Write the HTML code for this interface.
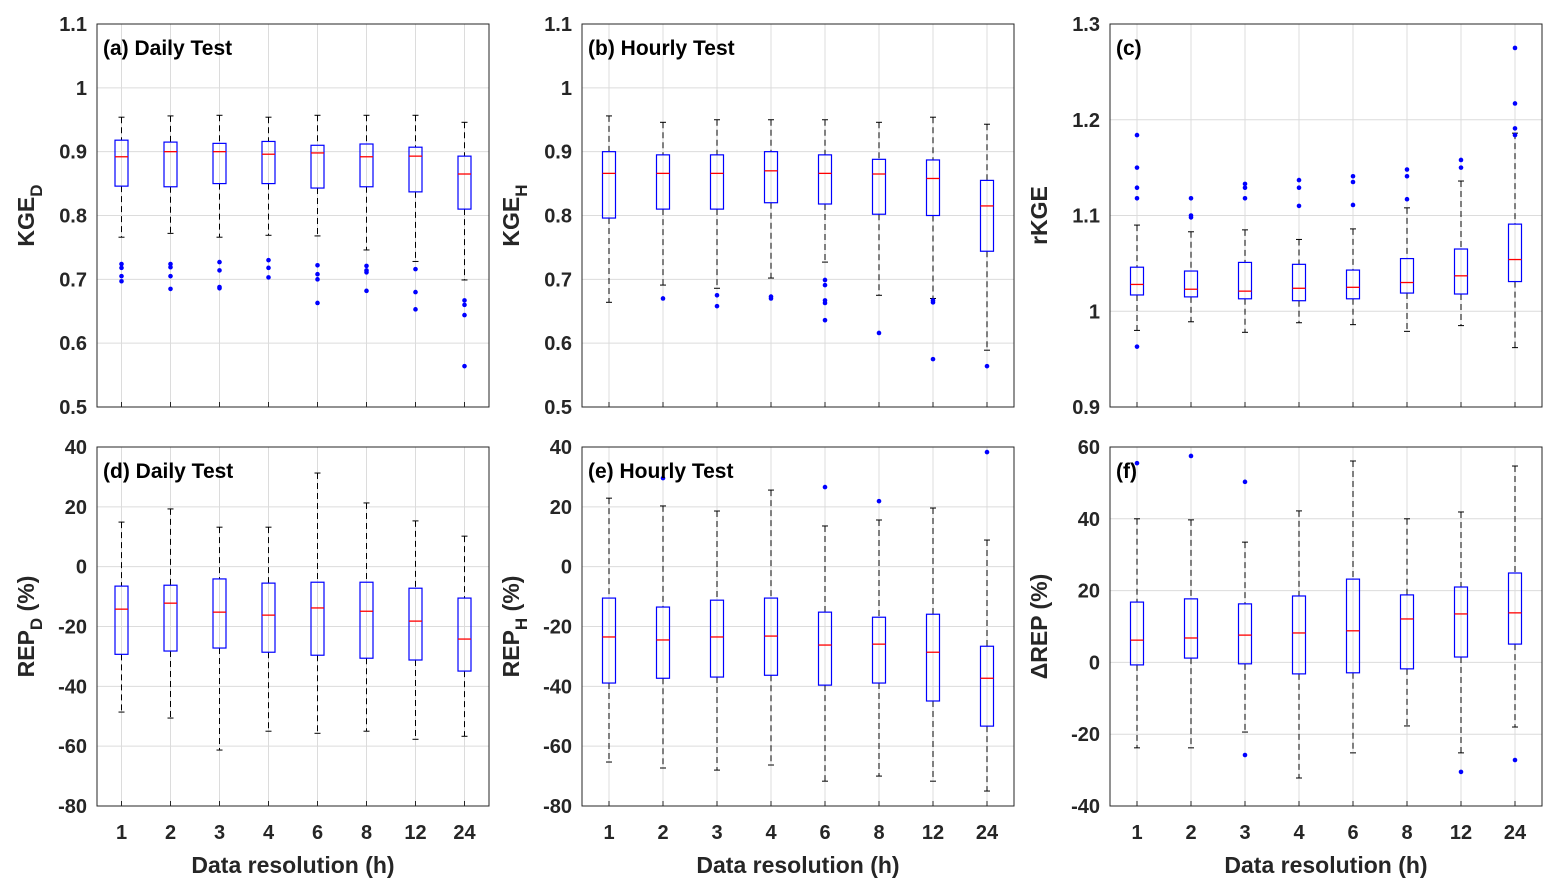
<!DOCTYPE html>
<html><head><meta charset="utf-8"><style>
body{margin:0;background:#fff;}
svg{display:block;font-family:"Liberation Sans",Arial,sans-serif;}
</style></head><body>
<svg id="chart" width="1559" height="894" xmlns="http://www.w3.org/2000/svg"></svg>
<script>
const categories = ["1","2","3","4","6","8","12","24"];
// each entry: [lowWhisker, q1, median, q3, highWhisker]
const statsA = [[0.766,0.846,0.892,0.918,0.954],[0.772,0.845,0.9,0.915,0.956],[0.766,0.85,0.9,0.913,0.957],[0.769,0.85,0.896,0.916,0.954],[0.768,0.843,0.898,0.91,0.957],[0.746,0.845,0.892,0.912,0.957],[0.728,0.837,0.893,0.907,0.957],[0.699,0.81,0.865,0.893,0.946]];
const outA = [[0.724,0.718,0.705,0.697],[0.724,0.719,0.705,0.685],[0.727,0.714,0.688,0.686],[0.73,0.718,0.703],[0.722,0.708,0.7,0.663],[0.721,0.714,0.711,0.682],[0.716,0.68,0.653],[0.667,0.66,0.644,0.564]];
const statsB = [[0.664,0.796,0.866,0.9,0.956],[0.691,0.81,0.866,0.895,0.946],[0.686,0.81,0.866,0.895,0.95],[0.702,0.82,0.87,0.9,0.95],[0.727,0.818,0.866,0.895,0.95],[0.675,0.802,0.865,0.888,0.946],[0.67,0.8,0.858,0.887,0.954],[0.589,0.744,0.815,0.855,0.943]];
const outB = [[],[0.67],[0.675,0.658],[0.673,0.67],[0.699,0.691,0.667,0.663,0.636],[0.616],[0.667,0.664,0.575],[0.564]];
const statsC = [[0.98,1.017,1.028,1.046,1.09],[0.989,1.015,1.023,1.042,1.083],[0.978,1.013,1.021,1.051,1.085],[0.988,1.011,1.024,1.049,1.075],[0.986,1.013,1.025,1.043,1.086],[0.979,1.019,1.03,1.055,1.108],[0.985,1.018,1.037,1.065,1.136],[0.962,1.031,1.054,1.091,1.186]];
const outC = [[0.963,1.184,1.15,1.129,1.118],[1.118,1.1,1.098],[1.133,1.129,1.118],[1.137,1.129,1.11],[1.141,1.135,1.111],[1.148,1.141,1.117],[1.158,1.15],[1.275,1.217,1.191,1.184]];
const statsD = [[-48.6,-29.3,-14.2,-6.5,14.9],[-50.6,-28.2,-12.2,-6.2,19.3],[-61.3,-27.2,-15.2,-4.1,13.2],[-55,-28.6,-16.2,-5.5,13.2],[-55.7,-29.6,-13.8,-5.2,31.3],[-55,-30.6,-14.9,-5.2,21.3],[-57.7,-31.2,-18.2,-7.2,15.3],[-56.7,-34.9,-24.2,-10.5,10.2]];
const outD = [[],[],[],[],[],[],[],[]];
const statsE = [[-65.3,-38.9,-23.5,-10.5,22.9],[-67.3,-37.3,-24.5,-13.5,20.3],[-68,-36.9,-23.5,-11.2,18.6],[-66.3,-36.3,-23.2,-10.5,25.6],[-71.7,-39.6,-26.2,-15.2,13.6],[-70,-38.9,-25.9,-16.9,15.6],[-71.7,-44.9,-28.6,-15.9,19.6],[-75,-53.3,-37.3,-26.6,8.9]];
const outE = [[],[29.6],[],[],[26.6],[21.9],[],[38.3]];
const statsF = [[-23.8,-0.7,6.2,16.8,40],[-23.8,1.2,6.8,17.7,39.7],[-19.4,-0.4,7.6,16.3,33.5],[-32.2,-3.2,8.2,18.5,42.2],[-25.2,-2.9,8.8,23.2,56.1],[-17.7,-1.8,12.1,18.8,40],[-25.2,1.5,13.5,21,41.9],[-18,5.1,13.8,24.9,54.7]];
const outF = [[55.5],[57.5],[50.3,-25.8],[],[],[],[-30.5],[-27.2]];
const ticksTop = ["0.5","0.6","0.7","0.8","0.9","1","1.1"];
const ticksC = ["0.9","1","1.1","1.2","1.3"];
const ticksDE = ["-80","-60","-40","-20","0","20","40"];
const ticksF = ["-40","-20","0","20","40","60"];

const svg = document.getElementById('chart');
const NS = "http://www.w3.org/2000/svg";
function mk(tag, attrs, parent){const e=document.createElementNS(NS,tag);for(const k in attrs)e.setAttribute(k,attrs[k]);(parent||svg).appendChild(e);return e;}

const panels = [
 {id:"a",title:"(a) Daily Test",L:97,R:489,T:24,B:407,ticks:ticksTop,stats:statsA,out:outA,ylab:["KGE","D"]},
 {id:"b",title:"(b) Hourly Test",L:582,R:1014,T:24,B:407,ticks:ticksTop,stats:statsB,out:outB,ylab:["KGE","H"]},
 {id:"c",title:"(c)",L:1110,R:1542,T:24,B:407,ticks:ticksC,stats:statsC,out:outC,ylab:["rKGE",""]},
 {id:"d",title:"(d) Daily Test",L:97,R:489,T:447,B:806,ticks:ticksDE,stats:statsD,out:outD,ylab:["REP","D"," (%)"],xl:true},
 {id:"e",title:"(e) Hourly Test",L:582,R:1014,T:447,B:806,ticks:ticksDE,stats:statsE,out:outE,ylab:["REP","H"," (%)"],xl:true},
 {id:"f",title:"(f)",L:1110,R:1542,T:447,B:806,ticks:ticksF,stats:statsF,out:outF,ylab:["\u0394REP (%)",""],xl:true}
];

panels.forEach(p=>{
  const g = mk('g',{});
  
  
  const vmin=parseFloat(p.ticks[0]), vmax=parseFloat(p.ticks[p.ticks.length-1]);
  const y = v => p.B - (v-vmin)/(vmax-vmin)*(p.B-p.T);
  const step=(p.R-p.L)/categories.length;
  const x = i => p.L + step*(i+0.5);
  // grid
  p.ticks.forEach(t=>{const yy=y(parseFloat(t));
    mk('line',{x1:p.L,x2:p.R,y1:yy,y2:yy,stroke:"#dcdcdc","stroke-width":1},g);
    const tl=mk('text',{x:p.L-10,y:yy+7,"text-anchor":"end","font-size":20,"font-weight":"bold",fill:"#262626"},g);
    tl.textContent=t;
    
    
  });
  categories.forEach((c,i)=>{
    mk('line',{x1:x(i),x2:x(i),y1:p.T,y2:p.B,stroke:"#dcdcdc","stroke-width":1},g);
    mk('line',{x1:x(i),x2:x(i),y1:p.B,y2:p.B-5,stroke:"#262626","stroke-width":1},g);
    if(p.xl){const tl=mk('text',{x:x(i),y:p.B+33,"text-anchor":"middle","font-size":20,"font-weight":"bold",fill:"#262626"},g);
      tl.textContent=c;
      
      }
  });
  mk('rect',{x:p.L,y:p.T,width:p.R-p.L,height:p.B-p.T,fill:"none",stroke:"#262626","stroke-width":1},g);
  // boxes
  p.stats.forEach((s,i)=>{
    const cx=x(i), hw=6.5;
    const bg=mk('g',{},g);
    
    
    mk('line',{x1:cx,x2:cx,y1:y(s[4]),y2:y(s[3]),stroke:"#000","stroke-dasharray":"6,4"},bg);
    mk('line',{x1:cx,x2:cx,y1:y(s[1]),y2:y(s[0]),stroke:"#000","stroke-dasharray":"6,4"},bg);
    mk('line',{x1:cx-3,x2:cx+3,y1:y(s[4]),y2:y(s[4]),stroke:"#000"},bg);
    mk('line',{x1:cx-3,x2:cx+3,y1:y(s[0]),y2:y(s[0]),stroke:"#000"},bg);
    mk('rect',{x:cx-hw,y:y(s[3]),width:2*hw,height:y(s[1])-y(s[3]),fill:"none",stroke:"#0000ff","stroke-width":1.2},bg);
    mk('line',{x1:cx-hw,x2:cx+hw,y1:y(s[2]),y2:y(s[2]),stroke:"#ff0000","stroke-width":1.3},bg);
    p.out[i].forEach(v=>{
      const o=mk('circle',{cx:cx,cy:y(v),r:2.3,fill:"#0000ff"},bg);
      
      
    });
  });
  const t=mk('text',{x:p.L+6,y:p.T+31,"font-size":21,"font-weight":"bold",fill:"#000"},g);
  t.textContent=p.title;
  
  
  const cy=(p.T+p.B)/2, lx=p.L-63;
  const yl=mk('text',{transform:`translate(${lx},${cy}) rotate(-90)`,"text-anchor":"middle","font-size":23,"font-weight":"bold",fill:"#262626"},g);
  
  
  const t1=mk('tspan',{},yl); t1.textContent=p.ylab[0];
  if(p.ylab[1]){const t2=mk('tspan',{dy:8,"font-size":17},yl);t2.textContent=p.ylab[1];}
  if(p.ylab[2]){const t3=mk('tspan',{dy:-8},yl);t3.textContent=p.ylab[2];}
  if(p.xl){const xl=mk('text',{x:(p.L+p.R)/2,y:p.B+67,"text-anchor":"middle","font-size":23,"font-weight":"bold",fill:"#262626"},g);
    xl.textContent="Data resolution (h)";
    
    }
});
</script>
</body></html>
